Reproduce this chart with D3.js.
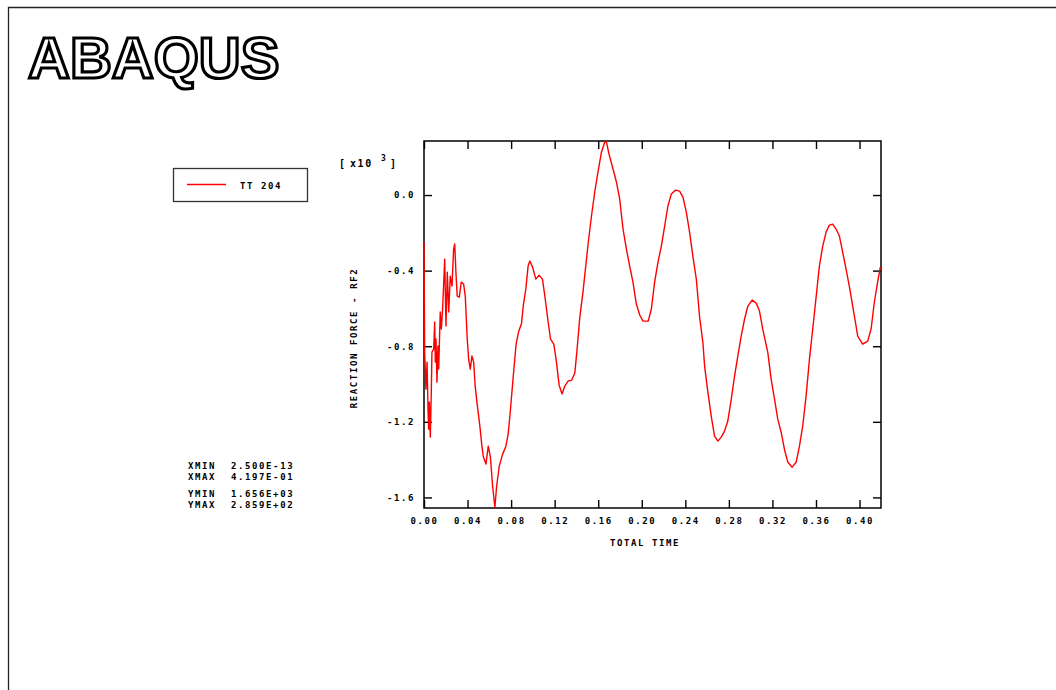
<!DOCTYPE html>
<html>
<head>
<meta charset="utf-8">
<script src="https://cdn.jsdelivr.net/npm/d3@7"></script>
<style>
  body { margin: 0; background: #fff; }
  svg { display: block; }
  .mono { font-family: "DejaVu Sans Mono", monospace; font-weight: bold; font-size: 9px; letter-spacing: 1.6px; fill: #000; }
  .axis text { font-family: "DejaVu Sans Mono", monospace; font-weight: bold; font-size: 9px; letter-spacing: 1.6px; fill: #000; }
  .axis line { stroke: #000; stroke-width: 1.4; }
</style>
</head>
<body>
<div id="chart"></div>
<script>
// total time
const time = [
  0.0000, 0.0006, 0.0018, 0.0028, 0.0037, 0.0043, 0.0049, 0.0058, 0.0067, 0.0073,
  0.0089, 0.0098, 0.0104, 0.0110, 0.0119, 0.0128, 0.0135, 0.0149, 0.0159, 0.0171,
  0.0190, 0.0202, 0.0214, 0.0227, 0.0241, 0.0257, 0.0272, 0.0282, 0.0293, 0.0305,
  0.0324, 0.0342, 0.0364, 0.0379, 0.0397, 0.0410, 0.0425, 0.0440, 0.0456, 0.0470,
  0.0486, 0.0502, 0.0516, 0.0532, 0.0544, 0.0569, 0.0590, 0.0610, 0.0630, 0.0651,
  0.0667, 0.0691, 0.0722, 0.0752, 0.0773, 0.0793, 0.0819, 0.0846, 0.0868, 0.0896,
  0.0911, 0.0935, 0.0956, 0.0972, 0.0997, 0.1027, 0.1057, 0.1088, 0.1110, 0.1140,
  0.1162, 0.1192, 0.1213, 0.1241, 0.1268, 0.1293, 0.1323, 0.1357, 0.1385, 0.1406,
  0.1431, 0.1461, 0.1507, 0.1538, 0.1568, 0.1598, 0.1630, 0.1660, 0.1675, 0.1699,
  0.1736, 0.1767, 0.1797, 0.1828, 0.1859, 0.1889, 0.1919, 0.1950, 0.1981, 0.2011,
  0.2059, 0.2088, 0.2118, 0.2149, 0.2180, 0.2210, 0.2240, 0.2271, 0.2311, 0.2347,
  0.2378, 0.2409, 0.2439, 0.2469, 0.2501, 0.2531, 0.2561, 0.2577, 0.2607, 0.2638,
  0.2668, 0.2699, 0.2730, 0.2760, 0.2790, 0.2822, 0.2852, 0.2882, 0.2913, 0.2944,
  0.2974, 0.3014, 0.3051, 0.3081, 0.3111, 0.3157, 0.3188, 0.3219, 0.3249, 0.3280,
  0.3310, 0.3341, 0.3381, 0.3418, 0.3448, 0.3478, 0.3509, 0.3540, 0.3570, 0.3601,
  0.3631, 0.3662, 0.3693, 0.3723, 0.3754, 0.3784, 0.3815, 0.3845, 0.3876, 0.3906,
  0.3937, 0.3968, 0.3983, 0.4029, 0.4075, 0.4106, 0.4136, 0.4166, 0.4191
];

// reaction force RF2 [x10^3]
const rf2 = [
  -0.249, -0.831, -1.027, -0.884, -1.133, -1.239, -1.096, -1.281, -1.043, -0.831,
  -0.815, -0.672, -0.884, -0.762, -0.990, -0.799, -0.921, -0.619, -0.709, -0.603,
  -0.339, -0.693, -0.408, -0.619, -0.429, -0.482, -0.286, -0.259, -0.408, -0.535,
  -0.540, -0.461, -0.471, -0.535, -0.762, -0.868, -0.921, -0.852, -0.884, -1.011,
  -1.096, -1.170, -1.239, -1.329, -1.382, -1.424, -1.329, -1.387, -1.541, -1.652,
  -1.541, -1.435, -1.371, -1.329, -1.265, -1.143, -0.963, -0.789, -0.725, -0.678,
  -0.588, -0.498, -0.376, -0.349, -0.381, -0.445, -0.424, -0.445, -0.535, -0.672,
  -0.762, -0.789, -0.868, -1.006, -1.053, -1.011, -0.985, -0.979, -0.942, -0.815,
  -0.646, -0.508, -0.259, -0.111, 0.016, 0.122, 0.228, 0.281, 0.281, 0.217,
  0.138, 0.069, -0.021, -0.180, -0.286, -0.376, -0.461, -0.577, -0.635, -0.667,
  -0.667, -0.603, -0.461, -0.355, -0.270, -0.164, -0.058, 0.005, 0.026, 0.021,
  -0.011, -0.090, -0.196, -0.323, -0.445, -0.646, -0.778, -0.905, -1.043, -1.170,
  -1.276, -1.302, -1.281, -1.249, -1.196, -1.080, -0.958, -0.852, -0.746, -0.656,
  -0.588, -0.556, -0.572, -0.614, -0.709, -0.831, -0.974, -1.080, -1.186, -1.255,
  -1.345, -1.413, -1.440, -1.413, -1.329, -1.223, -1.064, -0.868, -0.709, -0.540,
  -0.376, -0.270, -0.196, -0.159, -0.154, -0.180, -0.217, -0.302, -0.392, -0.482,
  -0.588, -0.693, -0.746, -0.789, -0.773, -0.709, -0.566, -0.461, -0.381
];

const xTicks = [0, 0.04, 0.08, 0.12, 0.16, 0.20, 0.24, 0.28, 0.32, 0.36, 0.40];
const yTicks = [0, -0.4, -0.8, -1.2, -1.6];
const xDomain = [0, 0.4197];
const yDomain = [-1.656, 0.2859];

const statLabels = ["XMIN", "XMAX", "YMIN", "YMAX"];
const statValues = ["2.500E-13", "4.197E-01", "1.656E+03", "2.859E+02"];
const seriesName = "TT 204";

const width = 1056, height = 690;
const plot = {left: 424, right: 881, top: 141, bottom: 508};

const svg = d3.select("#chart").append("svg")
  .attr("width", width)
  .attr("height", height);

// page frame (top + left)
svg.append("path")
  .attr("d", "M8.5,690 V7.5 H1056")
  .attr("fill", "none")
  .attr("stroke", "#222")
  .attr("stroke-width", 1.3);

svg.append("text")
  .attr("x", 28)
  .attr("y", 78)
  .attr("font-family", "Liberation Sans, Arial, sans-serif")
  .attr("font-weight", "bold")
  .attr("font-size", 58)
  .attr("fill", "#fff")
  .attr("stroke", "#000")
  .attr("stroke-width", 3.2)
  .attr("stroke-linejoin", "miter")
  .text("ABAQUS");

const x = d3.scaleLinear().domain(xDomain).range([plot.left, plot.right]);
const y = d3.scaleLinear().domain(yDomain).range([plot.bottom, plot.top]);

const fmt = f => d => d3.format(f)(d).replace("−", "-");

svg.append("g")
  .attr("class", "axis")
  .attr("transform", "translate(0," + plot.bottom + ")")
  .call(d3.axisBottom(x).tickValues(xTicks).tickSizeInner(-8).tickSizeOuter(0)
    .tickPadding(10).tickFormat(fmt(".2f")))
  .call(g => g.select(".domain").remove());

svg.append("g")
  .attr("class", "axis")
  .attr("transform", "translate(0," + plot.top + ")")
  .call(d3.axisTop(x).tickValues(xTicks).tickSizeInner(-8).tickSizeOuter(0).tickFormat(""))
  .call(g => g.select(".domain").remove());

svg.append("g")
  .attr("class", "axis")
  .attr("transform", "translate(" + plot.left + ",0)")
  .call(d3.axisLeft(y).tickValues(yTicks).tickSizeInner(-8).tickSizeOuter(0)
    .tickPadding(9).tickFormat(fmt(".1f")))
  .call(g => g.select(".domain").remove());

svg.append("g")
  .attr("class", "axis")
  .attr("transform", "translate(" + plot.right + ",0)")
  .call(d3.axisRight(y).tickValues(yTicks).tickSizeInner(-8).tickSizeOuter(0).tickFormat(""))
  .call(g => g.select(".domain").remove());

svg.append("rect")
  .attr("x", plot.left)
  .attr("y", plot.top)
  .attr("width", plot.right - plot.left)
  .attr("height", plot.bottom - plot.top)
  .attr("fill", "none")
  .attr("stroke", "#000")
  .attr("stroke-width", 1.5);

const line = d3.line()
  .x((d, i) => x(time[i]))
  .y(d => y(d));

svg.append("path")
  .datum(rf2)
  .attr("d", line)
  .attr("fill", "none")
  .attr("stroke", "#ff0000")
  .attr("stroke-width", 1.4)
  .attr("stroke-linejoin", "round");

// axis titles
svg.append("text")
  .attr("class", "mono")
  .attr("x", 645)
  .attr("y", 546)
  .attr("text-anchor", "middle")
  .text("TOTAL TIME");

svg.append("text")
  .attr("class", "mono")
  .attr("transform", "translate(357,338) rotate(-90)")
  .attr("text-anchor", "middle")
  .text("REACTION FORCE - RF2");

const mult = svg.append("text")
  .attr("class", "mono")
  .style("font-size", "10px")
  .attr("y", 167);
mult.append("tspan").attr("x", 339).text("[");
mult.append("tspan").attr("x", 350).text("x10");
mult.append("tspan").attr("x", 381).attr("dy", -6).style("font-size", "8px").text("3");
mult.append("tspan").attr("x", 390).attr("dy", 6).text("]");

// legend
svg.append("rect")
  .attr("x", 173.5)
  .attr("y", 168.5)
  .attr("width", 134)
  .attr("height", 33)
  .attr("fill", "none")
  .attr("stroke", "#333")
  .attr("stroke-width", 1.3);

svg.append("line")
  .attr("x1", 187).attr("x2", 226)
  .attr("y1", 184.5).attr("y2", 184.5)
  .attr("stroke", "#ff0000")
  .attr("stroke-width", 1.3);

svg.append("text")
  .attr("class", "mono")
  .attr("x", 240)
  .attr("y", 188.5)
  .text(seriesName);

// min / max block
const statY = [469, 480, 497, 508];
statLabels.forEach((lab, i) => {
  svg.append("text")
    .attr("class", "mono")
    .attr("x", 188)
    .attr("y", statY[i])
    .text(lab);
  svg.append("text")
    .attr("class", "mono")
    .attr("x", 231)
    .attr("y", statY[i])
    .text(statValues[i]);
});
</script>
</body>
</html>
